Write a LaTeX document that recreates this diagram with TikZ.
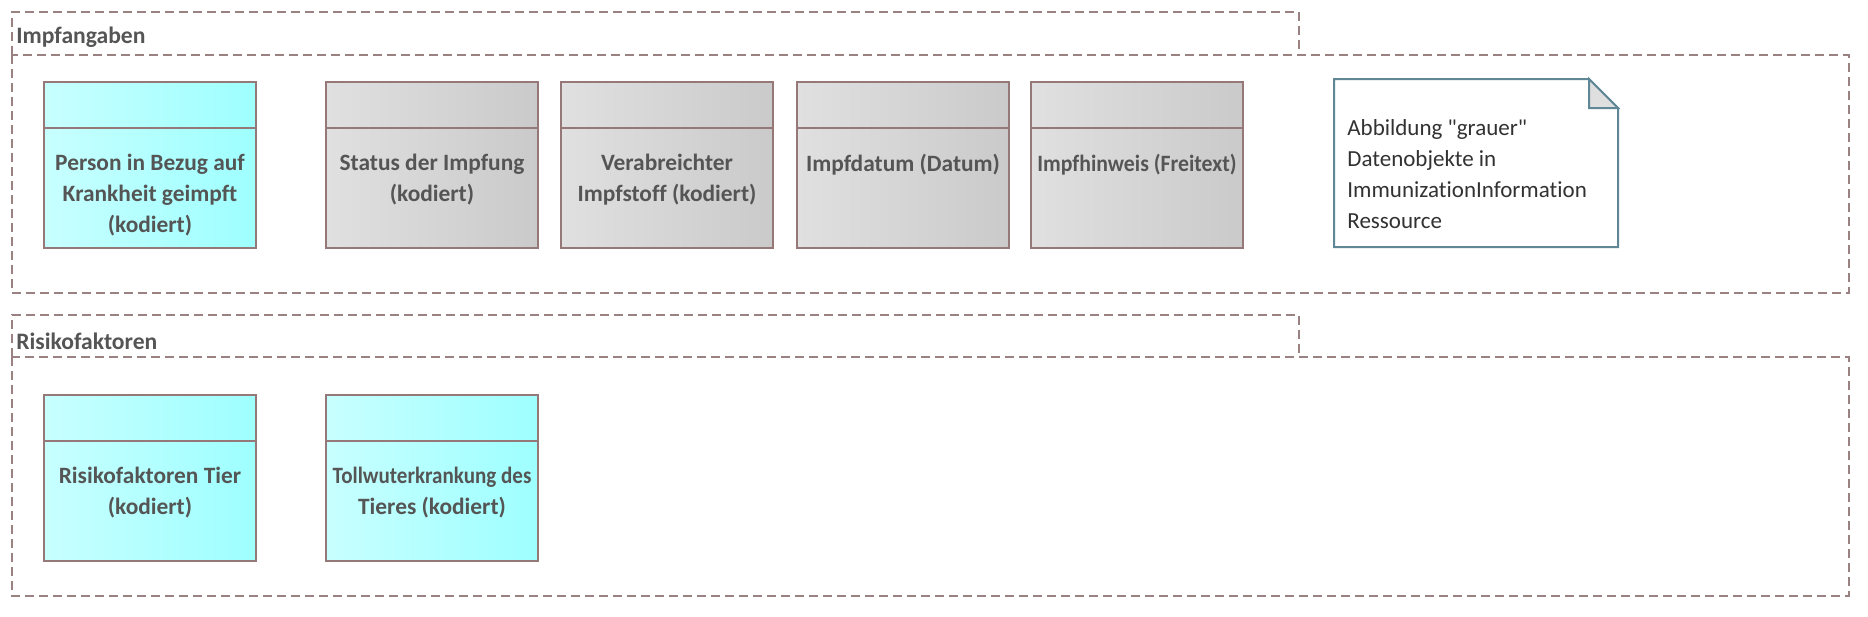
\documentclass[tikz,border=0pt]{standalone}
\usepackage{fontspec}
\setmainfont{Carlito}[Ligatures={TeX,CommonOff}]
\usetikzlibrary{calc,positioning}
\definecolor{paketrand}{RGB}{155,130,130}
\definecolor{objrand}{RGB}{150,120,120}
\definecolor{objtext}{RGB}{85,85,85}
\definecolor{objcyanA}{RGB}{200,255,255}
\definecolor{objcyanB}{RGB}{158,255,255}
\definecolor{objgrauA}{RGB}{224,224,224}
\definecolor{objgrauB}{RGB}{202,202,202}
\definecolor{notizrand}{RGB}{95,135,150}
\definecolor{notiztext}{RGB}{50,50,50}
\begin{document}
\begin{tikzpicture}[x=0.5pt,y=-0.5pt,line join=miter,
 paket/.style={draw=paketrand,line width=1pt,dash pattern=on 4.5pt off 2.5pt},
 datenobj/.style={draw=objrand,line width=1pt,minimum width=106pt,
  minimum height=83pt,anchor=north west,inner sep=0pt},
 obj/.style={datenobj,left color=obj#1A,right color=obj#1B},
 objlabel/.style={anchor=north,align=center,text=objtext,inner sep=0pt,
  font=\bfseries\fontsize{11.7}{15.5}\selectfont},
 paketlabel/.style={anchor=west,text=objtext,inner sep=0pt,
  font=\bfseries\fontsize{11.8}{13}\selectfont}]
 \useasboundingbox (0,0) rectangle (1868,616);
 % Pakete
 \draw[paket] (12,55) -- (12,12) -- (1299,12) -- (1299,55);
 \draw[paket] (12,55) rectangle (1849,293);
 \node[paketlabel] (impf) at (16,37) {Impfangaben};
 \draw[paket] (12,357) -- (12,315) -- (1299,315) -- (1299,357);
 \draw[paket] (12,357) rectangle (1849,596);
 \node[paketlabel] (risiko) at (16,341) {Risikofaktoren};
 % Datenobjekte
 \foreach \name/\x/\y/\art/\txt in {
   person/43/81/cyan/{Person in Bezug auf\\Krankheit geimpft\\(kodiert)},
   status/325/81/grau/{Status der Impfung\\(kodiert)},
   stoff/560/81/grau/{Verabreichter\\Impfstoff (kodiert)},
   datum/796/81/grau/{Impfdatum (Datum)},
   hinweis/1030/81/grau/{\scalebox{0.93}[1]{Impfhinweis (Freitext)}},
   tier/43/394/cyan/{Risikofaktoren Tier\\(kodiert)},
   tollwut/325/394/cyan/{\scalebox{0.9}[1]{Tollwuterkrankung des}\\Tieres (kodiert)}}{
  \node[obj=\art] (\name) at (\x,\y) {};
  \draw[objrand,line width=1pt]
   ($(\name.north west)+(0,47)$) -- ($(\name.north east)+(0,47)$);
  \node[objlabel] (\name-text) at ($(\name.north)+(0,73)$) {\txt};
 }
 % Notiz
 \draw[notizrand,line width=1pt,fill=white]
  (1334,79) -- (1589,79) -- (1618,108) -- (1618,247) -- (1334,247) -- cycle;
 \filldraw[notizrand,line width=1pt,fill=gray!25]
  (1589,79) -- (1589,108) -- (1618,108) -- cycle;
 \node[anchor=west,align=left,text=notiztext,inner sep=0pt,
  font=\fontsize{11.5}{15.5}\selectfont] (notiz) at (1347,174)
  {Abbildung \textquotedbl grauer\textquotedbl\\Datenobjekte in\\ImmunizationInformation\\Ressource};
\end{tikzpicture}
\end{document}
